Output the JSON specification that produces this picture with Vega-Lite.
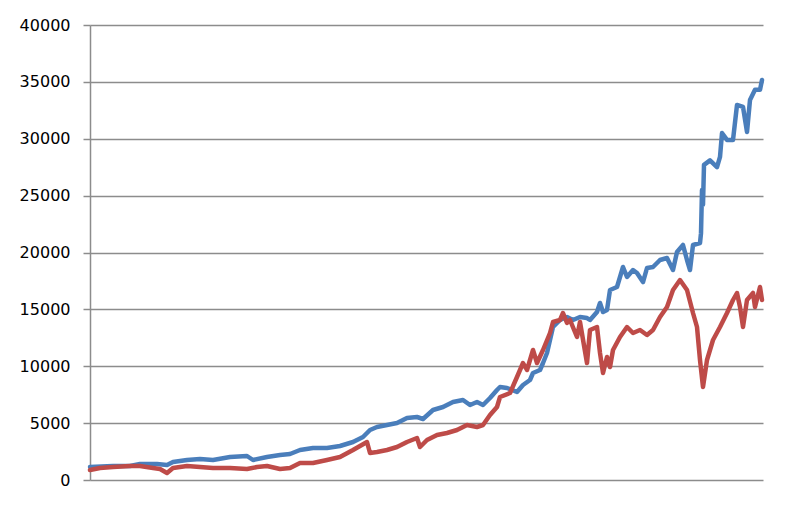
{
  "$schema": "https://vega.github.io/schema/vega-lite/v6.json",
  "autosize": "none",
  "width": 673,
  "height": 455,
  "padding": {"left": 90, "top": 25, "right": 27, "bottom": 28},
  "background": "#ffffff",
  "config": {
    "view": {"stroke": null},
    "axis": {"labelFont": "DejaVu Sans", "labelColor": "#000000"}
  },
  "datasets": {
    "blue": [
      {"t": 0, "value": 1143}, {"t": 23, "value": 1231}, {"t": 40, "value": 1231},
      {"t": 50, "value": 1407}, {"t": 67, "value": 1407}, {"t": 77, "value": 1319},
      {"t": 83, "value": 1582}, {"t": 97, "value": 1758}, {"t": 110, "value": 1846},
      {"t": 123, "value": 1758}, {"t": 140, "value": 2022}, {"t": 157, "value": 2110},
      {"t": 163, "value": 1758}, {"t": 177, "value": 2022}, {"t": 190, "value": 2198},
      {"t": 200, "value": 2286}, {"t": 210, "value": 2637}, {"t": 223, "value": 2813},
      {"t": 237, "value": 2813}, {"t": 250, "value": 2989}, {"t": 263, "value": 3341},
      {"t": 273, "value": 3780}, {"t": 280, "value": 4396}, {"t": 287, "value": 4659},
      {"t": 297, "value": 4835}, {"t": 307, "value": 5011}, {"t": 317, "value": 5450},
      {"t": 327, "value": 5538}, {"t": 333, "value": 5363}, {"t": 343, "value": 6154},
      {"t": 353, "value": 6417}, {"t": 363, "value": 6857}, {"t": 373, "value": 7033},
      {"t": 380, "value": 6593}, {"t": 387, "value": 6857}, {"t": 393, "value": 6593},
      {"t": 400, "value": 7209}, {"t": 407, "value": 7912}, {"t": 410, "value": 8176},
      {"t": 417, "value": 8088}, {"t": 427, "value": 7736}, {"t": 433, "value": 8351},
      {"t": 440, "value": 8791}, {"t": 443, "value": 9406}, {"t": 450, "value": 9670},
      {"t": 453, "value": 10285}, {"t": 457, "value": 11165}, {"t": 460, "value": 12307},
      {"t": 463, "value": 13450}, {"t": 470, "value": 14066}, {"t": 477, "value": 14329},
      {"t": 483, "value": 14066}, {"t": 490, "value": 14329}, {"t": 497, "value": 14241},
      {"t": 500, "value": 14066}, {"t": 507, "value": 14769}, {"t": 510, "value": 15560},
      {"t": 513, "value": 14769}, {"t": 517, "value": 14945}, {"t": 520, "value": 16703},
      {"t": 527, "value": 16967}, {"t": 533, "value": 18725}, {"t": 537, "value": 17846},
      {"t": 543, "value": 18461}, {"t": 547, "value": 18197}, {"t": 553, "value": 17406},
      {"t": 557, "value": 18637}, {"t": 563, "value": 18725}, {"t": 570, "value": 19340},
      {"t": 577, "value": 19516}, {"t": 583, "value": 18461}, {"t": 587, "value": 20043},
      {"t": 593, "value": 20659}, {"t": 597, "value": 19340}, {"t": 600, "value": 18461},
      {"t": 603, "value": 20659}, {"t": 610, "value": 20835}, {"t": 611, "value": 21700},
      {"t": 612, "value": 25500}, {"t": 613, "value": 24200}, {"t": 614, "value": 27700},
      {"t": 620, "value": 28100}, {"t": 627, "value": 27500}, {"t": 630, "value": 28400},
      {"t": 632, "value": 30500}, {"t": 637, "value": 29900}, {"t": 643, "value": 29900},
      {"t": 647, "value": 32970}, {"t": 653, "value": 32800}, {"t": 657, "value": 30600},
      {"t": 660, "value": 33400}, {"t": 665, "value": 34300}, {"t": 670, "value": 34300},
      {"t": 672, "value": 35160}
    ],
    "red": [
      {"t": 0, "value": 879}, {"t": 10, "value": 1055}, {"t": 23, "value": 1143},
      {"t": 40, "value": 1231}, {"t": 50, "value": 1231}, {"t": 63, "value": 1055},
      {"t": 70, "value": 967}, {"t": 77, "value": 615}, {"t": 83, "value": 1055},
      {"t": 97, "value": 1231}, {"t": 110, "value": 1143}, {"t": 123, "value": 1055},
      {"t": 140, "value": 1055}, {"t": 157, "value": 967}, {"t": 167, "value": 1143},
      {"t": 177, "value": 1231}, {"t": 190, "value": 967}, {"t": 200, "value": 1055},
      {"t": 210, "value": 1494}, {"t": 223, "value": 1494}, {"t": 237, "value": 1758},
      {"t": 250, "value": 2022}, {"t": 263, "value": 2637}, {"t": 277, "value": 3341},
      {"t": 280, "value": 2374}, {"t": 287, "value": 2461}, {"t": 297, "value": 2637},
      {"t": 307, "value": 2901}, {"t": 317, "value": 3341}, {"t": 327, "value": 3692},
      {"t": 330, "value": 2901}, {"t": 337, "value": 3516}, {"t": 347, "value": 3956},
      {"t": 357, "value": 4132}, {"t": 367, "value": 4396}, {"t": 377, "value": 4835},
      {"t": 387, "value": 4659}, {"t": 393, "value": 4835}, {"t": 400, "value": 5714},
      {"t": 407, "value": 6417}, {"t": 410, "value": 7297}, {"t": 420, "value": 7648},
      {"t": 427, "value": 9055}, {"t": 433, "value": 10285}, {"t": 437, "value": 9670},
      {"t": 443, "value": 11428}, {"t": 447, "value": 10285}, {"t": 453, "value": 11428},
      {"t": 460, "value": 12923}, {"t": 463, "value": 13890}, {"t": 470, "value": 14066},
      {"t": 473, "value": 14681}, {"t": 477, "value": 13802}, {"t": 480, "value": 14066},
      {"t": 487, "value": 12571}, {"t": 490, "value": 13890}, {"t": 497, "value": 10285},
      {"t": 500, "value": 13187}, {"t": 507, "value": 13450}, {"t": 510, "value": 11165},
      {"t": 513, "value": 9406}, {"t": 517, "value": 10813}, {"t": 520, "value": 9934},
      {"t": 523, "value": 11428}, {"t": 530, "value": 12571}, {"t": 537, "value": 13450},
      {"t": 543, "value": 12923}, {"t": 550, "value": 13187}, {"t": 557, "value": 12747},
      {"t": 563, "value": 13187}, {"t": 570, "value": 14329}, {"t": 577, "value": 15209},
      {"t": 583, "value": 16703}, {"t": 590, "value": 17582}, {"t": 597, "value": 16703},
      {"t": 603, "value": 14681}, {"t": 607, "value": 13450}, {"t": 610, "value": 10549},
      {"t": 613, "value": 8176}, {"t": 617, "value": 10549}, {"t": 623, "value": 12307},
      {"t": 630, "value": 13450}, {"t": 637, "value": 14681}, {"t": 643, "value": 15824},
      {"t": 647, "value": 16439}, {"t": 650, "value": 15209}, {"t": 653, "value": 13450},
      {"t": 657, "value": 15824}, {"t": 663, "value": 16439}, {"t": 665, "value": 15209},
      {"t": 670, "value": 16967}, {"t": 672, "value": 15824}
    ]
  },
  "encoding": {
    "x": {
      "field": "t",
      "type": "quantitative",
      "scale": {"domain": [0, 673], "nice": false, "zero": false},
      "axis": {
        "title": null,
        "labels": false,
        "ticks": false,
        "grid": false,
        "domain": false
      }
    },
    "y": {
      "field": "value",
      "type": "quantitative",
      "scale": {"domain": [0, 40000], "nice": false},
      "axis": {
        "title": null,
        "values": [0, 5000, 10000, 15000, 20000, 25000, 30000, 35000, 40000],
        "format": "d",
        "labelFontSize": 16,
        "labelPadding": 13,
        "tickSize": 7,
        "tickColor": "#8c8c8c",
        "tickWidth": 1.5,
        "domainColor": "#8c8c8c",
        "domainWidth": 1.5,
        "grid": true,
        "gridColor": "#8c8c8c",
        "gridWidth": 1.5,
        "gridOpacity": 1
      }
    }
  },
  "layer": [
    {
      "data": {"name": "blue"},
      "mark": {"type": "line", "color": "#4A7EBB", "strokeWidth": 4.5, "strokeJoin": "round", "strokeCap": "round"}
    },
    {
      "data": {"name": "red"},
      "mark": {"type": "line", "color": "#BE4B48", "strokeWidth": 4.5, "strokeJoin": "round", "strokeCap": "round"}
    }
  ]
}
